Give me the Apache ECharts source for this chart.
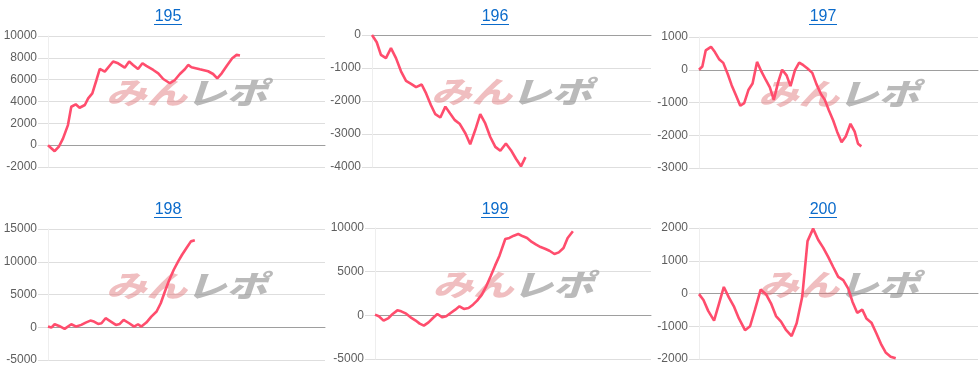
<!DOCTYPE html>
<html>
<head>
<meta charset="utf-8">
<script src="https://cdn.jsdelivr.net/npm/echarts@6/dist/echarts.min.js"></script>
<style>
html,body{margin:0;padding:0;background:#fff;}
#c{width:979px;height:382px;}
</style>
</head>
<body>
<div id="c"></div>
<script>
// Titles
const titles = ['195', '196', '197', '198', '199', '200'];
// Y-axis ranges (min, max, interval)
const yMins = [-2000, -4000, -3000, -5000, -5000, -2000];
const yMaxs = [10000, 0, 1000, 15000, 10000, 2000];
const yIntervals = [2000, 1000, 1000, 5000, 5000, 1000];

// x positions (progress through the day, % of axis) and values for each chart
const x195 = [0, 2.4, 4.0, 5.4, 7.2, 8.4, 10.0, 11.4, 13.3, 14.5, 16.0, 17.5, 18.7, 20.5, 23.5, 25.3, 27.7, 29.3, 30.7, 32.5, 34.1, 35.5, 38.0, 39.8, 41.6, 44.0, 45.8, 47.6, 49.4, 50.6, 51.8, 54.8, 57.8, 59.6, 61.1, 62.7, 64.5, 66.5, 68.1, 69.3];
const y195 = [0, -550, -100, 600, 1840, 3520, 3740, 3430, 3680, 4290, 4750, 5970, 6980, 6740, 7660, 7500, 7100, 7660, 7350, 6980, 7500, 7260, 6890, 6580, 6060, 5670, 5970, 6520, 6950, 7350, 7140, 6950, 6770, 6520, 6120, 6580, 7260, 7960, 8270, 8210];

const x196 = [0, 1.7, 3.2, 5.0, 6.8, 8.6, 10.4, 12.2, 14.0, 15.8, 17.8, 19.4, 21.1, 22.7, 24.5, 26.3, 28.0, 29.7, 31.5, 33.5, 35.2, 37.0, 38.8, 40.6, 42.4, 44.2, 46.0, 48.0, 49.8, 51.6, 53.4, 55.0];
const y196 = [0, -220, -600, -700, -400, -700, -1100, -1390, -1480, -1580, -1500, -1770, -2120, -2400, -2500, -2170, -2380, -2580, -2700, -2985, -3310, -2880, -2400, -2680, -3090, -3390, -3510, -3290, -3490, -3750, -3980, -3700];

const x197 = [0, 1.2, 2.4, 4.3, 5.7, 7.3, 8.7, 10.3, 11.7, 13.2, 14.8, 16.2, 17.7, 19.2, 20.8, 22.4, 24.0, 25.4, 26.8, 28.4, 29.8, 31.4, 32.8, 34.4, 35.9, 37.4, 38.9, 40.6, 42.1, 43.7, 45.1, 46.5, 48.1, 49.5, 51.1, 52.6, 54.3, 55.8, 57.0, 58.2];
const y197 = [0, 100, 590, 700, 540, 310, 210, -130, -470, -770, -1100, -1020, -620, -420, 240, -60, -320, -540, -920, -370, 0, -170, -500, -10, 220, 140, 40, -95, -440, -740, -920, -1230, -1550, -1890, -2210, -2040, -1650, -1890, -2260, -2340];

const x198 = [0, 1.2, 2.4, 4.0, 6.0, 8.4, 10.2, 12.0, 13.6, 15.3, 16.6, 18.1, 19.3, 20.8, 22.7, 24.5, 25.9, 27.3, 29.3, 31.1, 32.5, 33.7, 35.5, 37.3, 39.2, 40.7, 42.2, 43.7, 45.4, 47.0, 48.4, 50.0, 51.6, 53.0];
const y198 = [100, -50, 460, 200, -250, 460, 100, 360, 710, 1020, 870, 510, 610, 1380, 870, 360, 510, 1120, 610, 100, 460, 100, 710, 1630, 2400, 3670, 5460, 7140, 8780, 10050, 11070, 12090, 13110, 13270];

const x199 = [0, 1.4, 3.1, 4.9, 6.5, 8.1, 9.5, 11.3, 12.9, 14.6, 16.2, 17.7, 19.4, 21.0, 22.6, 24.4, 25.8, 27.4, 29.1, 30.6, 32.2, 33.9, 35.5, 37.0, 38.7, 40.3, 41.9, 43.5, 45.1, 47.2, 48.7, 50.3, 51.9, 53.6, 55.1, 56.8, 58.4, 60.0, 61.6, 63.2, 65.0, 66.6, 68.3, 69.8, 71.7];
const y199 = [80, -110, -610, -310, 190, 570, 460, 190, -230, -570, -950, -1180, -800, -310, 150, -230, -110, 270, 650, 1030, 730, 840, 1220, 1680, 2370, 3320, 4470, 5690, 6830, 8740, 8860, 9120, 9310, 9050, 8860, 8400, 8090, 7820, 7630, 7400, 7020, 7210, 7710, 8860, 9620];

const x200 = [0, 1.6, 3.3, 5.4, 7.2, 8.9, 10.7, 12.6, 14.3, 16.5, 18.3, 20.0, 22.1, 24.0, 25.8, 27.6, 29.4, 31.1, 33.2, 35.0, 37.0, 38.9, 40.9, 42.7, 44.5, 46.3, 48.1, 49.9, 51.7, 53.5, 55.0, 56.7, 58.5, 60.0, 61.8, 63.6, 65.4, 66.9, 68.7, 70.5];
const y200 = [-20, -200, -530, -830, -300, 200, -120, -410, -760, -1120, -1000, -510, 120, -20, -300, -690, -860, -1100, -1300, -910, -100, 1600, 1980, 1640, 1400, 1120, 810, 510, 410, 150, -250, -590, -490, -760, -890, -1220, -1570, -1800, -1930, -1980];

const xs = [x195, x196, x197, x198, x199, x200];
const ys = [y195, y196, y197, y198, y199, y200];

// layout (px)
const gridBoxes = [
  {left: 48, top: 36, width: 277, height: 131},
  {left: 372, top: 35, width: 279, height: 132},
  {left: 699, top: 37, width: 279, height: 131},
  {left: 48, top: 229, width: 277, height: 131},
  {left: 375, top: 228, width: 276, height: 131},
  {left: 699, top: 228, width: 279, height: 131}
];
const titlePos = [
  {x: 168, y: 17}, {x: 495, y: 17}, {x: 823, y: 17},
  {x: 168, y: 210}, {x: 495, y: 210}, {x: 823, y: 210}
];

const grids = [], xAxes = [], yAxes = [], series = [], graphics = [];
for (let i = 0; i < 6; i++) {
  const g = gridBoxes[i];
  grids.push({left: g.left, top: g.top, width: g.width, height: g.height, containLabel: false});
  xAxes.push({
    type: 'value', gridIndex: i, min: 0, max: 100,
    axisLine: {show: true, onZero: true, lineStyle: {color: '#9e9e9e', width: 1}},
    axisTick: {show: false}, axisLabel: {show: false}, splitLine: {show: false}
  });
  yAxes.push({
    type: 'value', gridIndex: i, min: yMins[i], max: yMaxs[i], interval: yIntervals[i],
    axisLine: {show: true, lineStyle: {color: '#eeeeee', width: 1}},
    axisTick: {show: true, length: 10, lineStyle: {color: '#dedede'}},
    axisLabel: {color: '#5e5e5e', fontSize: 12, fontFamily: 'Liberation Sans, Arial, sans-serif', margin: 11,
                formatter: v => String(v)},
    splitLine: {show: true, lineStyle: {color: '#dedede', width: 1}}
  });
  series.push({
    type: 'line', xAxisIndex: i, yAxisIndex: i,
    data: xs[i].map((x, k) => [x, ys[i][k]]),
    showSymbol: false, symbol: 'none',
    lineStyle: {color: '#ff4d6d', width: 2.6},
    z: 5, silent: true, animation: false
  });
  // title (underlined link style)
  const tp = titlePos[i];
  graphics.push({
    type: 'text', x: tp.x, y: tp.y, z: 10,
    style: {text: titles[i], fill: '#0b6bcb', font: '16px "Liberation Sans", Arial, sans-serif',
            textAlign: 'center', textVerticalAlign: 'middle'}
  });
  graphics.push({
    type: 'line', z: 10,
    shape: {x1: tp.x - 14, y1: tp.y + 7.5, x2: tp.x + 14, y2: tp.y + 7.5},
    style: {stroke: '#0b6bcb', lineWidth: 1}
  });
  // watermark
  const cx = g.left + g.width / 2;
  const cy = g.top + 57;
  graphics.push({
    type: 'text', x: cx - 40, y: cy, z: 1, scaleX: 1.35,
    style: {text: 'みん', fill: 'rgba(222,110,115,0.45)',
            font: 'italic 900 30px "Noto Sans CJK JP", sans-serif',
            textAlign: 'center', textVerticalAlign: 'middle'}
  });
  graphics.push({
    type: 'text', x: cx + 40, y: cy, z: 1, scaleX: 1.35,
    style: {text: 'レポ', fill: 'rgba(140,140,140,0.6)',
            font: 'italic 900 30px "Noto Sans CJK JP", sans-serif',
            textAlign: 'center', textVerticalAlign: 'middle'}
  });
}

const chart = echarts.init(document.getElementById('c'), null, {renderer: 'canvas'});
chart.setOption({
  animation: false,
  grid: grids, xAxis: xAxes, yAxis: yAxes, series: series, graphic: graphics
});
</script>
</body>
</html>
